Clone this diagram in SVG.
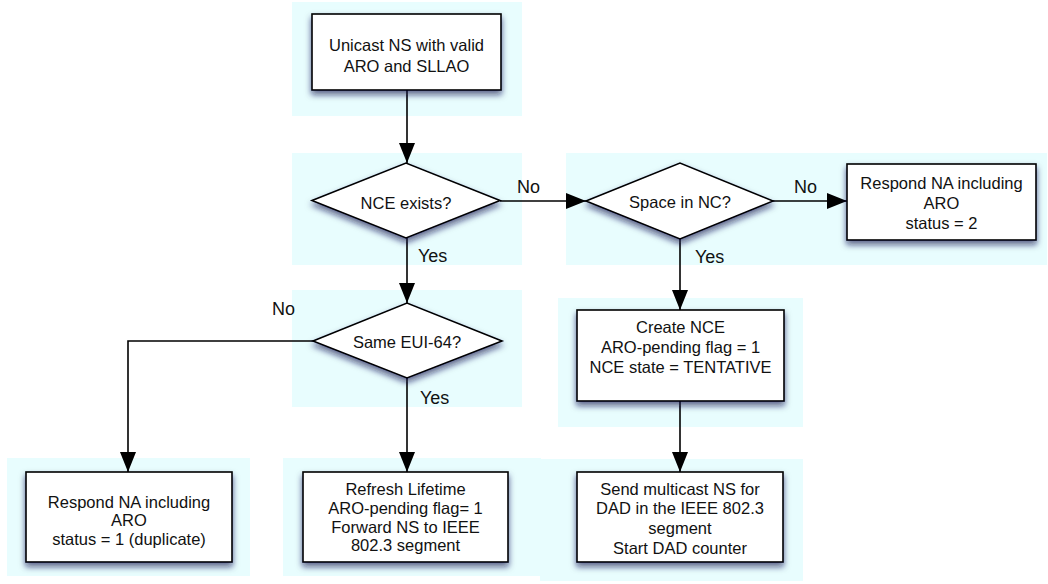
<svg xmlns="http://www.w3.org/2000/svg" width="1048" height="584" viewBox="0 0 1048 584">
  <style>
    .bg { fill: #e8fdfe; stroke: none; }
    .shape { fill: #ffffff; stroke: #000000; stroke-width: 1.6; filter: url(#shadow); }
    .label { font-family: "Liberation Sans", Arial, sans-serif; font-size: 16.5px; fill: #111111; text-anchor: middle; }
    .edge-label { font-family: "Liberation Sans", Arial, sans-serif; font-size: 18px; fill: #111111; }
    .edge { fill: none; stroke: #000000; stroke-width: 1.6; }
  </style>
  <defs>
    <filter id="shadow" x="-20%" y="-30%" width="140%" height="170%">
      <feDropShadow dx="0" dy="4" stdDeviation="3.2" flood-color="#0a1450" flood-opacity="0.65"/>
    </filter>
    <marker id="arrow" viewBox="0 0 20 16" refX="20" refY="8" markerWidth="20" markerHeight="16" markerUnits="userSpaceOnUse" orient="auto">
      <path d="M0,0 L20,8 L0,16 z" fill="#000000"/>
    </marker>
  </defs>

  <!-- highlight panels behind the nodes -->
  <g id="panels">
    <rect class="bg" x="292" y="2" width="230" height="114"/>
    <rect class="bg" x="292" y="153" width="230" height="112"/>
    <rect class="bg" x="566" y="153" width="481" height="112"/>
    <rect class="bg" x="292" y="290" width="230" height="117"/>
    <rect class="bg" x="558" y="298" width="245" height="129"/>
    <rect class="bg" x="7" y="458" width="243" height="118"/>
    <rect class="bg" x="283" y="458" width="258" height="118"/>
    <rect class="bg" x="540" y="459" width="263" height="122"/>
  </g>

  <!-- connectors -->
  <g id="connectors">
    <path class="edge" d="M407,90 L407,163" marker-end="url(#arrow)"/>
    <path class="edge" d="M407,238 L407,303" marker-end="url(#arrow)"/>
    <path class="edge" d="M500,201 L586,201" marker-end="url(#arrow)"/>
    <path class="edge" d="M773,201 L847,201" marker-end="url(#arrow)"/>
    <path class="edge" d="M680,239 L680,310" marker-end="url(#arrow)"/>
    <path class="edge" d="M313,341 L128,341 L128,472" marker-end="url(#arrow)"/>
    <path class="edge" d="M407,378 L407,472" marker-end="url(#arrow)"/>
    <path class="edge" d="M680,401 L680,472" marker-end="url(#arrow)"/>
    <text class="edge-label" x="517" y="193">No</text>
    <text class="edge-label" x="794" y="193">No</text>
    <text class="edge-label" x="418" y="262">Yes</text>
    <text class="edge-label" x="695" y="263">Yes</text>
    <text class="edge-label" x="272" y="315">No</text>
    <text class="edge-label" x="420" y="404">Yes</text>
  </g>

  <g id="start">
    <rect class="shape" x="312" y="14" width="189" height="76"/>
    <text class="label"><tspan x="406.5" y="51">Unicast NS with valid</tspan><tspan x="406.5" y="72">ARO and SLLAO</tspan></text>
  </g>

  <g id="nce-exists">
    <polygon class="shape" points="312,200.5 406,163 500,200.5 406,238"/>
    <text class="label" x="406" y="209">NCE exists?</text>
  </g>

  <g id="space-in-nc">
    <polygon class="shape" points="586,201 680,163 773,201 680,239"/>
    <text class="label" x="680" y="208">Space in NC?</text>
  </g>

  <g id="respond-status-2">
    <rect class="shape" x="847" y="164" width="189" height="76"/>
    <text class="label"><tspan x="941.5" y="189">Respond NA including</tspan><tspan x="941.5" y="209">ARO</tspan><tspan x="941.5" y="229">status = 2</tspan></text>
  </g>

  <g id="same-eui64">
    <polygon class="shape" points="313,341 407,303 502,341 407,378"/>
    <text class="label" x="407" y="348">Same EUI-64?</text>
  </g>

  <g id="create-nce">
    <rect class="shape" x="577" y="310" width="207" height="91"/>
    <text class="label"><tspan x="680.5" y="333">Create NCE</tspan><tspan x="680.5" y="353">ARO-pending flag = 1</tspan><tspan x="680.5" y="373">NCE state = TENTATIVE</tspan></text>
  </g>

  <g id="respond-duplicate">
    <rect class="shape" x="26" y="472" width="206" height="90"/>
    <text class="label"><tspan x="129" y="508">Respond NA including</tspan><tspan x="129" y="526">ARO</tspan><tspan x="129" y="545">status = 1 (duplicate)</tspan></text>
  </g>

  <g id="refresh-lifetime">
    <rect class="shape" x="303" y="472" width="205" height="90"/>
    <text class="label"><tspan x="405.5" y="495">Refresh Lifetime</tspan><tspan x="405.5" y="514">ARO-pending flag= 1</tspan><tspan x="405.5" y="533">Forward NS to IEEE</tspan><tspan x="405.5" y="551">802.3 segment</tspan></text>
  </g>

  <g id="send-multicast">
    <rect class="shape" x="577" y="472" width="206" height="90"/>
    <text class="label"><tspan x="680" y="495">Send multicast NS for</tspan><tspan x="680" y="514">DAD in the IEEE 802.3</tspan><tspan x="680" y="534">segment</tspan><tspan x="680" y="554">Start DAD counter</tspan></text>
  </g>
</svg>
